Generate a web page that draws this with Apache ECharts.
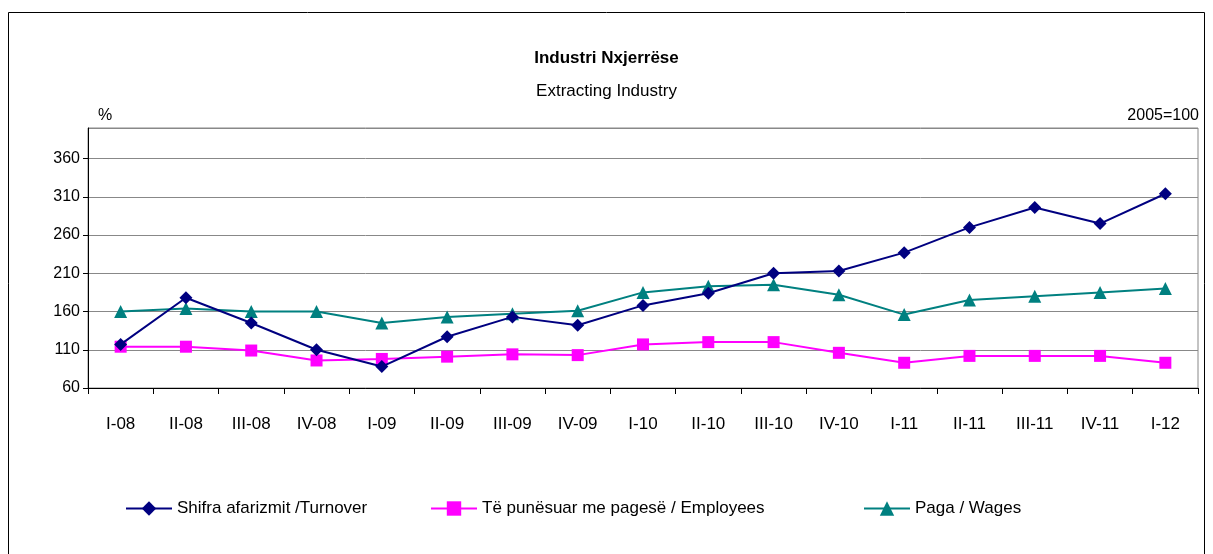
<!DOCTYPE html>
<html>
<head>
<meta charset="utf-8">
<script src="https://cdn.jsdelivr.net/npm/echarts@6/dist/echarts.min.js"></script>
<style>html,body{margin:0;padding:0;background:#fff}#c{width:1213px;height:554px}</style>
</head>
<body>
<div id="c"></div>
<script>
const categories = ['I-08','II-08','III-08','IV-08','I-09','II-09','III-09','IV-09','I-10','II-10','III-10','IV-10','I-11','II-11','III-11','IV-11','I-12'];
const turnover = [117,178,145,110,88,127,153,142,168,184,210,213,237,270,296,275,314];
const employees = [114,114,109,96,98,101,104,103,117,120,120,106,93,102,102,102,93];
const wages = [160,164,160,160,145,153,157,161,185,193,195,182,156,175,180,185,190];
const seriesNames = ['Shifra afarizmit /Turnover','Të punësuar me pagesë / Employees','Paga / Wages'];

const FONT = '"Liberation Sans", Arial, sans-serif';
const legendLefts = [120, 425, 858];
const chart = echarts.init(document.getElementById('c'), null, {renderer:'canvas'});
chart.setOption({
  backgroundColor:'#fff',
  animation:false,
  title:[
    {text:'Industri Nxjerrëse', left:'center', top:45, textStyle:{fontFamily:FONT,fontSize:17,fontWeight:'bold',color:'#000'}},
    {text:'Extracting Industry', left:'center', top:78, textStyle:{fontFamily:FONT,fontSize:17,fontWeight:'normal',color:'#000'}},
    {text:'%', left:93, top:103, textStyle:{fontFamily:FONT,fontSize:16,fontWeight:'normal',color:'#000'}},
    {text:'2005=100', right:9, top:103, textStyle:{fontFamily:FONT,fontSize:16,fontWeight:'normal',color:'#000'}}
  ],
  graphic:[{type:'rect', shape:{x:8.5,y:12.5,width:1196,height:560}, style:{fill:'none',stroke:'#000',lineWidth:1}, silent:true}],
  grid:{left:88, right:15, top:128, bottom:166, show:true, borderColor:'#888', borderWidth:1},
  legend: seriesNames.map((n,i)=>({
    top:495, left:legendLefts[i], itemGap:10, itemWidth:46, itemHeight:18,
    textStyle:{fontFamily:FONT,fontSize:17,color:'#000'},
    data:[n]
  })),
  xAxis:{
    type:'category', data:categories, boundaryGap:true,
    axisLine:{lineStyle:{color:'#000',width:1}},
    axisTick:{show:true, length:6, lineStyle:{color:'#000'}},
    axisLabel:{fontFamily:FONT,fontSize:17,color:'#000',margin:28,interval:0}
  },
  yAxis:{
    type:'value', min:60, max:400, interval:50,
    axisLine:{show:true,lineStyle:{color:'#000',width:1}},
    axisTick:{show:true,length:5,lineStyle:{color:'#000'}},
    axisLabel:{fontFamily:FONT,fontSize:16,color:'#000',margin:8,showMaxLabel:false},
    splitLine:{show:true,lineStyle:{color:'#888',width:1}}
  },
  series:[
    {name:seriesNames[0], type:'line', data:turnover, symbol:'diamond', symbolSize:13,
     lineStyle:{color:'#000080',width:2}, itemStyle:{color:'#000080'}, z:4},
    {name:seriesNames[1], type:'line', data:employees, symbol:'rect', symbolSize:12,
     lineStyle:{color:'#FF00FF',width:2}, itemStyle:{color:'#FF00FF'}, z:3},
    {name:seriesNames[2], type:'line', data:wages, symbol:'triangle', symbolSize:13,
     lineStyle:{color:'#008080',width:2}, itemStyle:{color:'#008080'}, z:2}
  ]
});
</script>
</body>
</html>
